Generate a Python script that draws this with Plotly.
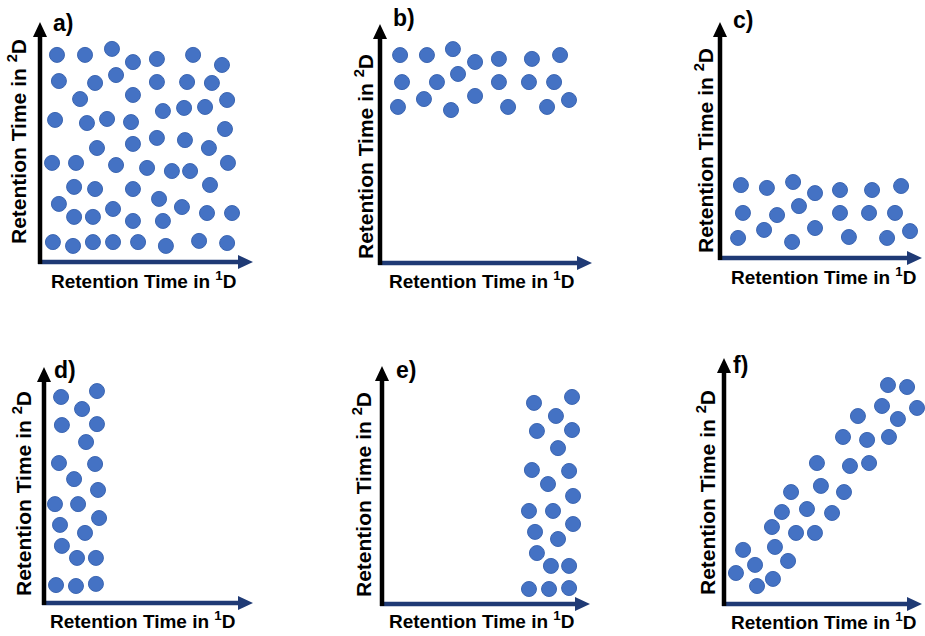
import plotly.graph_objects as go

W, H = 925, 636

# ---------------- data (arbitrary retention-time units, 0-10) ----------------
a_x = [0.84, 2.15, 3.41, 4.39, 5.51, 7.20, 8.55,
       0.93, 2.62, 3.60, 5.51, 6.92, 8.08,
       1.92, 4.39, 8.79,
       5.79, 6.78, 7.76,
       0.75, 2.24, 3.18, 4.30, 8.69,
       2.71, 4.39, 5.51, 6.82, 7.94,
       0.61, 1.73, 3.60, 5.05, 6.21, 7.06, 8.83,
       1.64, 2.62, 4.39, 7.99,
       0.93, 5.61, 6.68,
       1.64, 2.52, 3.46, 4.39, 5.79, 7.85, 9.02,
       0.65, 1.59, 2.52, 3.46, 4.63, 5.93, 7.48, 8.79]
a_y = [8.63, 8.63, 8.88, 8.33, 8.46, 8.63, 8.21,
       7.54, 7.46, 7.79, 7.50, 7.50, 7.46,
       6.79, 6.96, 6.75,
       6.29, 6.42, 6.46,
       5.92, 5.79, 5.96, 5.83, 5.54,
       4.75, 4.92, 5.17, 5.08, 4.75,
       4.13, 4.13, 4.04, 3.92, 3.79, 3.79, 4.13,
       3.13, 3.04, 3.04, 3.21,
       2.42, 2.63, 2.29,
       1.88, 1.88, 2.21, 1.71, 1.71, 2.04, 2.04,
       0.83, 0.67, 0.83, 0.83, 0.83, 0.67, 0.88, 0.79]

b_x = [0.99, 2.25, 3.47, 4.51, 5.63, 7.18, 8.50,
       1.08, 2.72, 3.71, 5.63, 7.04, 8.22,
       0.89, 2.11, 3.38, 4.51, 6.06, 7.89, 8.92]
b_y = [8.70, 8.70, 8.95, 8.41, 8.54, 8.54, 8.70,
       7.57, 7.57, 7.91, 7.57, 7.57, 7.57,
       6.53, 6.86, 6.40, 6.99, 6.53, 6.53, 6.82]

c_x = [1.08, 2.36, 3.65, 4.73, 5.96, 7.54, 8.97,
       1.18, 2.86, 3.94, 5.96, 7.39, 8.67,
       0.94, 2.22, 3.60, 4.73, 6.40, 8.28, 9.41]
c_y = [3.09, 2.97, 3.22, 2.75, 2.88, 2.88, 3.05,
       1.91, 1.82, 2.20, 1.91, 1.91, 1.91,
       0.85, 1.19, 0.68, 1.27, 0.89, 0.85, 1.14]

d_x = [0.86, 2.57, 1.86, 0.90, 2.57, 2.05, 0.76, 2.48, 1.48, 2.62, 0.57,
       1.67, 2.67, 0.81, 2.00, 0.90, 1.62, 2.52, 0.62, 1.57, 2.52]
d_y = [8.73, 8.98, 8.22, 7.54, 7.58, 6.82, 5.93, 5.89, 5.25, 4.79, 4.19,
       4.19, 3.60, 3.31, 2.97, 2.42, 1.91, 1.91, 0.76, 0.72, 0.81]

e_x = [7.32, 9.14, 8.37, 7.46, 9.14, 8.47, 7.22, 9.00, 7.99, 9.19, 7.08,
       8.23, 9.19, 7.37, 8.47, 7.46, 8.13, 9.00, 7.08, 8.04, 9.00]
e_y = [8.45, 8.70, 7.90, 7.27, 7.31, 6.55, 5.63, 5.59, 5.04, 4.54, 3.91,
       3.91, 3.36, 3.03, 2.73, 2.14, 1.60, 1.60, 0.63, 0.63, 0.67]

f_x = [8.29, 9.25, 9.75, 7.99, 8.79, 6.78, 6.03, 7.24, 8.34, 4.72, 6.38,
       7.34, 3.42, 4.92, 6.08, 2.96, 4.22, 5.48, 2.46, 3.67, 4.62, 2.61,
       3.27, 1.01, 1.61, 0.65, 1.71, 2.51]
f_y = [8.90, 8.82, 7.97, 8.05, 7.52, 7.64, 6.79, 6.67, 6.79, 5.73, 5.61,
       5.73, 4.55, 4.80, 4.55, 3.74, 3.86, 3.70, 3.13, 2.89, 2.89, 2.32,
       1.75, 2.20, 1.59, 1.26, 0.73, 1.02]

panel_labels = ["a)", "b)", "c)", "d)", "e)", "f)"]
x_title = "<b>Retention Time in <sup>1</sup>D</b>"
y_title = "<b>Retention Time in <sup>2</sup>D</b>"

series = [(a_x, a_y), (b_x, b_y), (c_x, c_y), (d_x, d_y), (e_x, e_y), (f_x, f_y)]

# ---------------- layout geometry (pixels) ----------------
geom = [
    dict(ox=39, oy=262, xe=253, ye=22),
    dict(ox=379, oy=263, xe=592, ye=24),
    dict(ox=719, oy=258, xe=922, ye=22),
    dict(ox=43, oy=603, xe=253, ye=367),
    dict(ox=381, oy=604, xe=590, ye=366),
    dict(ox=723, oy=604, xe=922, ye=358),
]
label_pos = [(51, 23), (391, 18), (731, 20), (52, 370), (394, 370), (731, 365)]
xt_pos = [(143, 280), (481, 280), (823, 276), (142, 620), (481, 620), (823, 621)]
yt_pos = [(17, 142), (364, 157), (704, 151), (22, 494), (362, 495), (706, 493)]


def px(x):
    return x / W


def py(y):
    return 1 - y / H


DOT = "#4472C4"
DOT_EDGE = "#3C66B2"
XAXIS_COL = "#1F3A75"
FONT = "Liberation Sans, Arial, Helvetica, sans-serif"

fig = go.Figure()
shapes = []
annotations = []
layout_axes = {}

for i, ((xs, ys), g) in enumerate(zip(series, geom)):
    n = "" if i == 0 else str(i + 1)
    fig.add_trace(go.Scatter(
        x=xs, y=ys, mode="markers",
        xaxis="x" + n, yaxis="y" + n,
        cliponaxis=False,
        marker=dict(size=15, color=DOT, line=dict(color=DOT_EDGE, width=1)),
        showlegend=False, hoverinfo="skip",
    ))
    layout_axes["xaxis" + n] = dict(
        domain=[px(g["ox"]), px(g["xe"])], range=[0, 10],
        anchor="y" + n, visible=False, fixedrange=True)
    layout_axes["yaxis" + n] = dict(
        domain=[py(g["oy"]), py(g["ye"])], range=[0, 10],
        anchor="x" + n, visible=False, fixedrange=True)

    ox, oy, xe, ye = g["ox"], g["oy"], g["xe"], g["ye"]
    shapes.append(dict(type="line", xref="paper", yref="paper",
                       x0=px(ox - 1), y0=py(oy), x1=px(xe - 12), y1=py(oy),
                       line=dict(color=XAXIS_COL, width=4.5)))
    shapes.append(dict(type="path", xref="paper", yref="paper",
                       path=f"M {px(xe-15)},{py(oy-7)} L {px(xe)},{py(oy)} L {px(xe-15)},{py(oy+7)} Z",
                       fillcolor=XAXIS_COL, line=dict(width=0)))
    shapes.append(dict(type="line", xref="paper", yref="paper",
                       x0=px(ox + 1), y0=py(oy + 2), x1=px(ox + 1), y1=py(ye + 12),
                       line=dict(color="black", width=4.5)))
    shapes.append(dict(type="path", xref="paper", yref="paper",
                       path=f"M {px(ox-6)},{py(ye+15)} L {px(ox+1)},{py(ye)} L {px(ox+8)},{py(ye+15)} Z",
                       fillcolor="black", line=dict(width=0)))

    lx, ly = label_pos[i]
    annotations.append(dict(text="<b>" + panel_labels[i] + "</b>", xref="paper", yref="paper",
                            x=px(lx), y=py(ly), xanchor="left", yanchor="middle",
                            showarrow=False, font=dict(size=23, color="black", family=FONT)))
    tx, ty = xt_pos[i]
    annotations.append(dict(text=x_title, xref="paper", yref="paper",
                            x=px(tx), y=py(ty), xanchor="center", yanchor="middle",
                            showarrow=False, font=dict(size=19, color="black", family=FONT)))
    vx, vy = yt_pos[i]
    annotations.append(dict(text=y_title, xref="paper", yref="paper",
                            x=px(vx), y=py(vy), xanchor="center", yanchor="middle",
                            textangle=-90,
                            showarrow=False, font=dict(size=21, color="black", family=FONT)))

fig.update_layout(
    width=W, height=H,
    margin=dict(l=0, r=0, t=0, b=0),
    paper_bgcolor="white", plot_bgcolor="rgba(0,0,0,0)",
    shapes=shapes, annotations=annotations,
    **layout_axes,
)

fig.write_html("out.html")
